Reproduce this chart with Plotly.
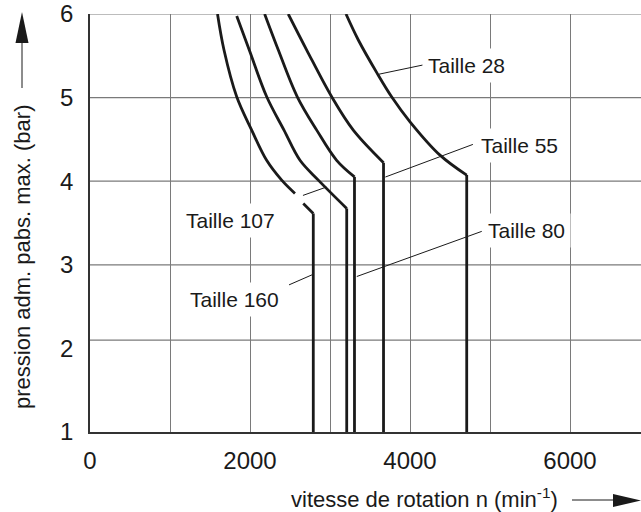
import plotly.graph_objects as go

# ---------------- data ----------------
# Curves: speed n (min^-1) vs. max. admissible absolute pressure (bar)
t160_x = [1594, 1675, 1834, 2021, 2208, 2396, 2562, None, 2666, 2791, 2791]
t160_y = [6.0, 5.569, 5.01, 4.611, 4.25, 4.013, 3.854, None, 3.734, 3.614, 1.0]

t107_x = [1834, 1991, 2209, 2425, 2625, 2854, 3209, 3209]
t107_y = [5.976, 5.569, 5.01, 4.611, 4.25, 4.013, 3.674, 1.0]

t80_x = [2183, 2354, 2591, 2834, 3083, 3306, 3306]
t80_y = [6.0, 5.569, 5.01, 4.611, 4.25, 4.052, 1.0]

t55_x = [2478, 2709, 3021, 3291, 3669, 3669]
t55_y = [6.0, 5.569, 5.01, 4.611, 4.222, 1.0]

t28_x = [3200, 3354, 3590, 3770, 4000, 4375, 4709, 4709]
t28_y = [6.0, 5.689, 5.29, 5.01, 4.711, 4.312, 4.073, 1.0]

# Labels (text centre) and leader lines (start -> end) in data units
label_text = ["Taille 28", "Taille 55", "Taille 107", "Taille 160", "Taille 80"]
label_x = [4707, 5363, 1750, 1800, 5458]
label_y = [5.39, 4.43, 3.53, 2.58, 3.41]
leader_x0 = [3612, 3692, 2662, 2488, 3335]
leader_y0 = [5.28, 4.05, 3.83, 2.76, 2.86]
leader_x1 = [4161, 4786, 2955, 2775, 4897]
leader_y1 = [5.39, 4.44, 3.93, 2.88, 3.40]

# Axes
x_tickvals = [0, 2000, 4000, 6000]
x_ticktext = ["0", "2000", "4000", "6000"]
x_grid_step = 1000
y_tickvals = [1, 2, 3, 4, 5, 6]
y_ticktext = ["1", "2", "3", "4", "5", "6"]
grid_y = [2.1, 3, 4, 5, 6]
x_range = [0, 6887.5]
y_range = [1, 6]

x_title = "vitesse de rotation n (min<sup>-1</sup>)"
y_title = "pression adm. pabs. max. (bar)"

# ---------------- figure ----------------
W, H = 641, 512
ML, MR, MT, MB = 90, 0, 14, 80
PW, PH = W - ML - MR, H - MT - MB


def px(xp):
    return (xp - ML) / PW


def py(yp):
    return (H - MB - yp) / PH


FONT = "Liberation Sans, Arial, Helvetica, sans-serif"
INK = "#1a1a1a"
fig = go.Figure()

curve_style = dict(color=INK, width=2.8)
for xs, ys, name in [(t160_x, t160_y, "Taille 160"), (t107_x, t107_y, "Taille 107"),
                     (t80_x, t80_y, "Taille 80"), (t55_x, t55_y, "Taille 55"),
                     (t28_x, t28_y, "Taille 28")]:
    # curved part (up to the corner), drawn smooth
    fig.add_trace(go.Scatter(x=xs[:-1], y=ys[:-1], mode="lines", name=name,
                             line=dict(curve_style, shape="spline", smoothing=1.0),
                             connectgaps=False, hoverinfo="skip"))
    # vertical part from the corner down
    fig.add_trace(go.Scatter(x=xs[-2:], y=ys[-2:], mode="lines", name=name,
                             line=curve_style, hoverinfo="skip"))

for x0, y0, x1, y1 in zip(leader_x0, leader_y0, leader_x1, leader_y1):
    fig.add_trace(go.Scatter(x=[x0, x1], y=[y0, y1], mode="lines",
                             line=dict(color=INK, width=1), hoverinfo="skip"))

shapes = []
for gy in grid_y:
    shapes.append(dict(type="line", xref="paper", yref="y", x0=0, x1=1, y0=gy, y1=gy,
                       line=dict(color="#7a7a7a", width=1.2), layer="below"))

# axis-title arrows
shapes.append(dict(type="line", xref="paper", yref="paper", x0=px(22), x1=px(22),
                   y0=py(88), y1=py(40), line=dict(color=INK, width=1)))
shapes.append(dict(type="path", xref="paper", yref="paper",
                   path=f"M {px(22)} {py(12)} L {px(15.5)} {py(43)} L {px(28.5)} {py(43)} Z",
                   fillcolor=INK, line=dict(width=0)))
shapes.append(dict(type="line", xref="paper", yref="paper", x0=px(572), x1=px(616),
                   y0=py(500), y1=py(500), line=dict(color=INK, width=1)))
shapes.append(dict(type="path", xref="paper", yref="paper",
                   path=f"M {px(641)} {py(500.5)} L {px(613)} {py(494)} L {px(613)} {py(507)} Z",
                   fillcolor=INK, line=dict(width=0)))

annotations = []
for t, lx, ly in zip(label_text, label_x, label_y):
    annotations.append(dict(x=lx, y=ly, xref="x", yref="y", text=t, showarrow=False,
                            font=dict(family=FONT, size=21, color=INK),
                            bgcolor="white", borderpad=5, xanchor="center", yanchor="middle"))

annotations.append(dict(x=px(22), y=py(257), xref="paper", yref="paper", text=y_title,
                        textangle=-90, showarrow=False, xanchor="center", yanchor="middle",
                        font=dict(family=FONT, size=22, color=INK)))
annotations.append(dict(x=px(424), y=py(498), xref="paper", yref="paper", text=x_title,
                        showarrow=False, xanchor="center", yanchor="middle",
                        font=dict(family=FONT, size=22, color=INK)))

fig.update_layout(
    width=W, height=H,
    margin=dict(l=ML, r=MR, t=MT, b=MB, pad=0),
    paper_bgcolor="white", plot_bgcolor="white",
    showlegend=False,
    font=dict(family=FONT, size=24, color=INK),
    shapes=shapes, annotations=annotations,
    xaxis=dict(range=x_range, tickmode="array", tickvals=x_tickvals, ticktext=x_ticktext,
               showgrid=True, gridcolor="#7a7a7a", gridwidth=1.2, zeroline=False,
               minor=dict(dtick=x_grid_step, tick0=0, showgrid=True, gridcolor="#7a7a7a",
                          gridwidth=1.2, ticks=""),
               showline=True, linecolor="#333333", linewidth=1.6, ticks="",
               tickfont=dict(size=24), ticklabelstandoff=6),
    yaxis=dict(range=y_range, tickmode="array", tickvals=y_tickvals, ticktext=y_ticktext,
               showgrid=False, zeroline=False, showline=True, linecolor="#333333",
               linewidth=1.6, ticks="", tickfont=dict(size=24), ticklabelstandoff=10),
)

fig.write_html("out.html")
